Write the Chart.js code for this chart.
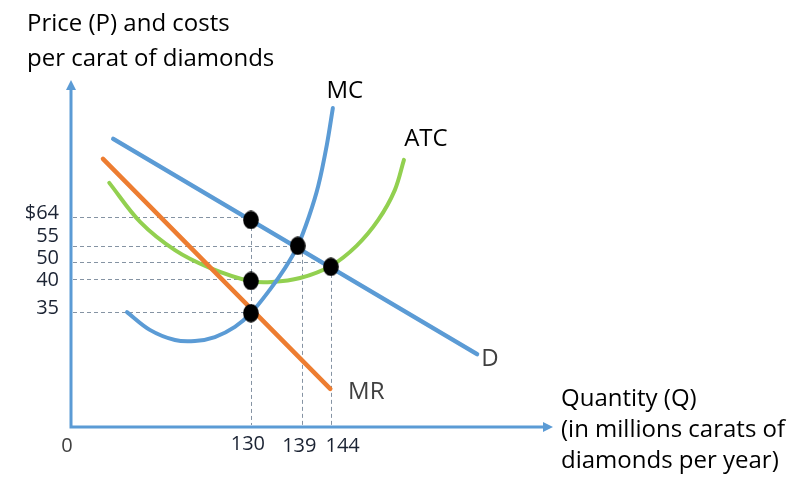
<!DOCTYPE html>
<html>
<head>
<meta charset="utf-8">
<script src="https://cdn.jsdelivr.net/npm/chart.js@4/dist/chart.umd.min.js"></script>
<style>
  html, body { margin: 0; padding: 0; background: #fff; }
  #wrap { width: 797px; height: 487px; position: relative; }
</style>
</head>
<body>
<div id="wrap"><canvas id="c" width="797" height="487"></canvas></div>
<script>
// ---------- data (quantity in millions of carats, price in $ per carat) ----------
const demandQ = [105.9, 169.6];
const demandP = [87.8, 22.2];
const mrQ = [104.1, 143.9];
const mrP = [81.7, 11.6];
const atcQ = [105.2, 110.6, 116.7, 122.8, 129.8, 133.7, 138.6, 144.0, 148.5, 152.3, 155.2, 156.8];
const atcP = [74.4, 62.5, 53.9, 48.5, 44.5, 44.2, 45.4, 49.1, 55.2, 63.1, 72.2, 81.4];
const mcQ = [108.3, 112.3, 116.7, 120.2, 123.7, 127.2, 130.0, 133.3, 136.0, 138.2, 140.2, 141.8, 143.3, 144.35];
const mcP = [35.0, 29.6, 26.5, 26.2, 27.4, 30.5, 34.7, 41.8, 48.5, 55.2, 64.3, 73.5, 86.0, 97.2];
const dotQ = [130, 138.2, 144, 130, 130];
const dotP = [63.1, 55.2, 48.8, 44.5, 34.7];
const priceTickLevels = [64, 55.2, 50.3, 45.1, 35.05];
const priceTickLabels = ['$64', '55', '50', '40', '35'];
const qtyTicks = [130, 139, 144];
const qtyTickLabels = ['130', '139', '144'];
const originLabel = '0';
const curveNames = ['MC', 'ATC', 'MR', 'D'];
const yTitle = ['Price (P) and costs', 'per carat of diamonds'];
const xTitle = ['Quantity (Q)', '(in millions carats of', 'diamonds per year)'];

// scale ranges
const Q_MIN = 98.5, Q_MAX = 182.9, P_MIN = 0, P_MAX = 105.75;

const BLUE = '#5B9BD5', ORANGE = '#ED7D31', GREEN = '#92D050';
const FONT = '"Open Sans", Lato, sans-serif';

function pts(xs, ys) { return xs.map((x, i) => ({ x: x, y: ys[i] })); }

// elliptical black marker
const dotImg = document.createElement('canvas');
dotImg.width = 16; dotImg.height = 19;
(function () {
  const g = dotImg.getContext('2d');
  g.fillStyle = '#000';
  g.beginPath();
  g.ellipse(8, 9.5, 7.8, 9.3, 0, 0, Math.PI * 2);
  g.fill();
})();

const decor = {
  id: 'decor',
  beforeDatasetsDraw(chart) {
    const ctx = chart.ctx, xs = chart.scales.x, ys = chart.scales.y;
    const ca = chart.chartArea;
    ctx.save();
    // dashed guide lines
    ctx.strokeStyle = '#8593a3';
    ctx.lineWidth = 1;
    ctx.setLineDash([4, 3]);
    priceTickLevels.forEach((lv, i) => {
      const y = Math.round(ys.getPixelForValue(lv)) + 0.5;
      ctx.beginPath();
      ctx.moveTo(ca.left + 2, y);
      ctx.lineTo(xs.getPixelForValue(dotQ[i]), y);
      ctx.stroke();
    });
    qtyTicks.forEach((q, i) => {
      const x = Math.round(xs.getPixelForValue(q)) + 0.5;
      ctx.beginPath();
      ctx.moveTo(x, ys.getPixelForValue(dotP[i]));
      ctx.lineTo(x, ca.bottom - 2);
      ctx.stroke();
    });
    ctx.setLineDash([]);

    // axes with arrows
    const ox = xs.getPixelForValue(Q_MIN), oy = ys.getPixelForValue(P_MIN);
    const tx = xs.getPixelForValue(Q_MAX), ty = ys.getPixelForValue(P_MAX);
    ctx.strokeStyle = BLUE; ctx.fillStyle = BLUE; ctx.lineWidth = 3;
    ctx.beginPath();
    ctx.moveTo(ox, ty + 8); ctx.lineTo(ox, oy); ctx.lineTo(tx - 8, oy);
    ctx.stroke();
    ctx.beginPath();
    ctx.moveTo(ox, ty); ctx.lineTo(ox - 5, ty + 10); ctx.lineTo(ox + 5, ty + 10); ctx.closePath(); ctx.fill();
    ctx.beginPath();
    ctx.moveTo(tx, oy); ctx.lineTo(tx - 10, oy - 5); ctx.lineTo(tx - 10, oy + 5); ctx.closePath(); ctx.fill();

    // y tick labels
    ctx.font = '20px ' + FONT;
    ctx.fillStyle = '#1b2333';
    ctx.textAlign = 'right';
    ctx.textBaseline = 'middle';
    const yc = priceTickLevels.map(v => ys.getPixelForValue(v) - 4);
    // keep labels from overlapping (push apart, a few passes)
    const minGap = 22;
    for (let pass = 0; pass < 4; pass++) {
      for (let i = 1; i < yc.length; i++) {
        if (yc[i] - yc[i - 1] < minGap) {
          const mid = (yc[i] + yc[i - 1]) / 2;
          yc[i - 1] = mid - minGap / 2;
          yc[i] = mid + minGap / 2;
        }
      }
    }
    priceTickLabels.forEach((t, i) => ctx.fillText(t, ox - 12, yc[i]));

    // x tick labels (avoid overlap)
    ctx.textAlign = 'left';
    let prevRight = -1e9;
    qtyTicks.forEach((q, i) => {
      const w = ctx.measureText(qtyTickLabels[i]).width;
      let left = xs.getPixelForValue(q) - w / 2 - 3;
      if (left < prevRight + 9) left = prevRight + 9;
      ctx.fillText(qtyTickLabels[i], left, oy + 17 + (i > 0 ? 2 : 0));
      prevRight = left + w;
    });
    ctx.fillStyle = '#404040';
    ctx.textAlign = 'center';
    ctx.fillText(originLabel, ox - 4, oy + 19);

    // axis titles
    ctx.font = '24px ' + FONT;
    ctx.fillStyle = '#000';
    ctx.textAlign = 'left';
    ctx.textBaseline = 'alphabetic';
    ctx.fillText(yTitle[0], 27, 31);
    ctx.fillText(yTitle[1], 27, 66);
    xTitle.forEach((t, i) => ctx.fillText(t, tx + 8, oy - 21 + i * 31));
    ctx.restore();
  },
  afterDatasetsDraw(chart) {
    const ctx = chart.ctx, xs = chart.scales.x, ys = chart.scales.y;
    ctx.save();
    ctx.font = '24px ' + FONT;
    ctx.textAlign = 'center';
    ctx.textBaseline = 'middle';
    const ends = {
      MC: [mcQ[mcQ.length - 1], mcP[mcP.length - 1], 12, -17, '#000'],
      ATC: [atcQ[atcQ.length - 1], atcP[atcP.length - 1], 22, -21, '#000'],
      MR: [mrQ[mrQ.length - 1], mrP[mrP.length - 1], 36, 3, '#404040'],
      D: [demandQ[demandQ.length - 1], demandP[demandP.length - 1], 13, 5, '#404040']
    };
    curveNames.forEach(n => {
      const e = ends[n];
      ctx.fillStyle = e[4];
      ctx.fillText(n, xs.getPixelForValue(e[0]) + e[2], ys.getPixelForValue(e[1]) + e[3]);
    });
    ctx.restore();
  }
};

const lineBase = { showLine: true, pointRadius: 0, pointHoverRadius: 0, fill: false, borderCapStyle: 'round', borderJoinStyle: 'round' };

new Chart(document.getElementById('c'), {
  type: 'scatter',
  data: {
    datasets: [
      { label: 'dots', data: pts(dotQ, dotP), showLine: false, pointStyle: dotImg, pointRadius: 8, order: 0 },
      Object.assign({ label: 'MC', data: pts(mcQ, mcP), borderColor: BLUE, borderWidth: 4, tension: 0.35, order: 1 }, lineBase),
      Object.assign({ label: 'D', data: pts(demandQ, demandP), borderColor: BLUE, borderWidth: 4.5, order: 2 }, lineBase),
      Object.assign({ label: 'MR', data: pts(mrQ, mrP), borderColor: ORANGE, borderWidth: 4.5, order: 3 }, lineBase),
      Object.assign({ label: 'ATC', data: pts(atcQ, atcP), borderColor: GREEN, borderWidth: 4, tension: 0.35, order: 4 }, lineBase)
    ]
  },
  options: {
    responsive: false,
    animation: false,
    devicePixelRatio: 1,
    layout: { padding: { left: 71, top: 80, right: 797 - 553, bottom: 487 - 427 } },
    plugins: { legend: { display: false }, tooltip: { enabled: false } },
    scales: {
      x: { type: 'linear', min: Q_MIN, max: Q_MAX, display: false },
      y: { type: 'linear', min: P_MIN, max: P_MAX, display: false }
    }
  },
  plugins: [decor]
});
</script>
</body>
</html>
